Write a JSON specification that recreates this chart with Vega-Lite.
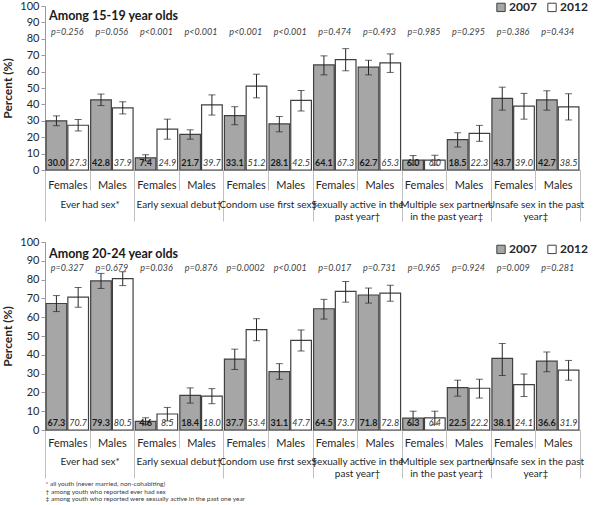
{
  "$schema": "https://vega.github.io/schema/vega-lite/v6.json",
  "padding": {"left": 1, "top": 0, "right": 5, "bottom": 0},
  "datasets": {
    "rows": [
      {"a":"15-19","c":"Ever had sex*","g":"F1","yr":"2007","v":30.0,"lo":27.0,"hi":33.0,"p":"p=0.256"},
      {"a":"15-19","c":"Ever had sex*","g":"F1","yr":"2012","v":27.3,"lo":23.8,"hi":30.8,"p":"p=0.256"},
      {"a":"15-19","c":"Ever had sex*","g":"M1","yr":"2007","v":42.8,"lo":39.3,"hi":46.3,"p":"p=0.056"},
      {"a":"15-19","c":"Ever had sex*","g":"M1","yr":"2012","v":37.9,"lo":34.2,"hi":41.6,"p":"p=0.056"},
      {"a":"15-19","c":"Early sexual debut†","g":"F2","yr":"2007","v":7.4,"lo":5.5,"hi":9.3,"p":"p<0.001"},
      {"a":"15-19","c":"Early sexual debut†","g":"F2","yr":"2012","v":24.9,"lo":18.8,"hi":31.0,"p":"p<0.001"},
      {"a":"15-19","c":"Early sexual debut†","g":"M2","yr":"2007","v":21.7,"lo":18.8,"hi":24.5,"p":"p<0.001"},
      {"a":"15-19","c":"Early sexual debut†","g":"M2","yr":"2012","v":39.7,"lo":33.5,"hi":45.8,"p":"p<0.001"},
      {"a":"15-19","c":"Condom  use first sex†","g":"F3","yr":"2007","v":33.1,"lo":27.6,"hi":38.6,"p":"p<0.001"},
      {"a":"15-19","c":"Condom  use first sex†","g":"F3","yr":"2012","v":51.2,"lo":44.0,"hi":58.4,"p":"p<0.001"},
      {"a":"15-19","c":"Condom  use first sex†","g":"M3","yr":"2007","v":28.1,"lo":23.3,"hi":32.6,"p":"p<0.001"},
      {"a":"15-19","c":"Condom  use first sex†","g":"M3","yr":"2012","v":42.5,"lo":36.0,"hi":48.5,"p":"p<0.001"},
      {"a":"15-19","c":"Sexually active in the past year†","g":"F4","yr":"2007","v":64.1,"lo":58.0,"hi":69.6,"p":"p=0.474"},
      {"a":"15-19","c":"Sexually active in the past year†","g":"F4","yr":"2012","v":67.3,"lo":60.5,"hi":74.0,"p":"p=0.474"},
      {"a":"15-19","c":"Sexually active in the past year†","g":"M4","yr":"2007","v":62.7,"lo":58.0,"hi":66.9,"p":"p=0.493"},
      {"a":"15-19","c":"Sexually active in the past year†","g":"M4","yr":"2012","v":65.3,"lo":59.5,"hi":70.8,"p":"p=0.493"},
      {"a":"15-19","c":"Multiple sex partners in the past year‡","g":"F5","yr":"2007","v":6.0,"lo":3.2,"hi":8.8,"p":"p=0.985"},
      {"a":"15-19","c":"Multiple sex partners in the past year‡","g":"F5","yr":"2012","v":6.0,"lo":3.0,"hi":9.0,"p":"p=0.985"},
      {"a":"15-19","c":"Multiple sex partners in the past year‡","g":"M5","yr":"2007","v":18.5,"lo":14.0,"hi":22.7,"p":"p=0.295"},
      {"a":"15-19","c":"Multiple sex partners in the past year‡","g":"M5","yr":"2012","v":22.3,"lo":17.5,"hi":27.2,"p":"p=0.295"},
      {"a":"15-19","c":"Unsafe sex in the past year‡","g":"F6","yr":"2007","v":43.7,"lo":36.5,"hi":50.5,"p":"p=0.386"},
      {"a":"15-19","c":"Unsafe sex in the past year‡","g":"F6","yr":"2012","v":39.0,"lo":31.0,"hi":46.7,"p":"p=0.386"},
      {"a":"15-19","c":"Unsafe sex in the past year‡","g":"M6","yr":"2007","v":42.7,"lo":36.5,"hi":48.3,"p":"p=0.434"},
      {"a":"15-19","c":"Unsafe sex in the past year‡","g":"M6","yr":"2012","v":38.5,"lo":30.5,"hi":46.5,"p":"p=0.434"},
      {"a":"20-24","c":"Ever had sex*","g":"F1","yr":"2007","v":67.3,"lo":63.0,"hi":71.5,"p":"p=0.327"},
      {"a":"20-24","c":"Ever had sex*","g":"F1","yr":"2012","v":70.7,"lo":65.3,"hi":75.8,"p":"p=0.327"},
      {"a":"20-24","c":"Ever had sex*","g":"M1","yr":"2007","v":79.3,"lo":75.3,"hi":83.3,"p":"p=0.679"},
      {"a":"20-24","c":"Ever had sex*","g":"M1","yr":"2012","v":80.5,"lo":76.8,"hi":84.2,"p":"p=0.679"},
      {"a":"20-24","c":"Early sexual debut†","g":"F2","yr":"2007","v":4.6,"lo":3.0,"hi":6.5,"p":"p=0.036"},
      {"a":"20-24","c":"Early sexual debut†","g":"F2","yr":"2012","v":8.5,"lo":4.8,"hi":12.0,"p":"p=0.036"},
      {"a":"20-24","c":"Early sexual debut†","g":"M2","yr":"2007","v":18.4,"lo":14.3,"hi":22.4,"p":"p=0.876"},
      {"a":"20-24","c":"Early sexual debut†","g":"M2","yr":"2012","v":18.0,"lo":14.0,"hi":22.0,"p":"p=0.876"},
      {"a":"20-24","c":"Condom  use first sex†","g":"F3","yr":"2007","v":37.7,"lo":32.2,"hi":43.0,"p":"p=0.0002"},
      {"a":"20-24","c":"Condom  use first sex†","g":"F3","yr":"2012","v":53.4,"lo":47.5,"hi":59.2,"p":"p=0.0002"},
      {"a":"20-24","c":"Condom  use first sex†","g":"M3","yr":"2007","v":31.1,"lo":27.0,"hi":35.3,"p":"p<0.001"},
      {"a":"20-24","c":"Condom  use first sex†","g":"M3","yr":"2012","v":47.7,"lo":42.0,"hi":53.2,"p":"p<0.001"},
      {"a":"20-24","c":"Sexually active in the past year†","g":"F4","yr":"2007","v":64.5,"lo":59.0,"hi":69.5,"p":"p=0.017"},
      {"a":"20-24","c":"Sexually active in the past year†","g":"F4","yr":"2012","v":73.7,"lo":68.0,"hi":79.0,"p":"p=0.017"},
      {"a":"20-24","c":"Sexually active in the past year†","g":"M4","yr":"2007","v":71.8,"lo":67.5,"hi":75.5,"p":"p=0.731"},
      {"a":"20-24","c":"Sexually active in the past year†","g":"M4","yr":"2012","v":72.8,"lo":68.5,"hi":77.0,"p":"p=0.731"},
      {"a":"20-24","c":"Multiple sex partners in the past year‡","g":"F5","yr":"2007","v":6.3,"lo":2.8,"hi":10.0,"p":"p=0.965"},
      {"a":"20-24","c":"Multiple sex partners in the past year‡","g":"F5","yr":"2012","v":6.4,"lo":3.0,"hi":10.0,"p":"p=0.965"},
      {"a":"20-24","c":"Multiple sex partners in the past year‡","g":"M5","yr":"2007","v":22.5,"lo":18.0,"hi":26.5,"p":"p=0.924"},
      {"a":"20-24","c":"Multiple sex partners in the past year‡","g":"M5","yr":"2012","v":22.2,"lo":17.0,"hi":27.0,"p":"p=0.924"},
      {"a":"20-24","c":"Unsafe sex in the past year‡","g":"F6","yr":"2007","v":38.1,"lo":29.0,"hi":46.0,"p":"p=0.009"},
      {"a":"20-24","c":"Unsafe sex in the past year‡","g":"F6","yr":"2012","v":24.1,"lo":17.8,"hi":29.8,"p":"p=0.009"},
      {"a":"20-24","c":"Unsafe sex in the past year‡","g":"M6","yr":"2007","v":36.6,"lo":31.0,"hi":41.5,"p":"p=0.281"},
      {"a":"20-24","c":"Unsafe sex in the past year‡","g":"M6","yr":"2012","v":31.9,"lo":26.5,"hi":37.0,"p":"p=0.281"}
    ]
  },
  "vconcat": [
    {
      "data": {"name": "rows"},
      "transform": [{"filter": "datum.a == '15-19'"}],
      "width": 535,
      "height": 164,
      "layer": [
        {
          "encoding": {
            "x": {"field": "g", "type": "nominal",
              "scale": {"domain": ["F1","M1","F2","M2","F3","M3","F4","M4","F5","M5","F6","M6"], "paddingInner": 0, "paddingOuter": 0},
              "axis": {"orient": "bottom", "title": null, "labelAngle": 0, "labelExpr": "slice(datum.label,0,1)=='F' ? 'Females' : slice(datum.label,0,1)=='M' ? 'Males' : ''", "tickBand": "extent", "tickSize": 20, "labelPadding": -11, "labelFontSize": 11, "labelColor": "#262626", "tickColor": "#bfbfbf", "domainColor": "#bfbfbf", "labelOverlap": false}},
            "y": {"field": "v", "type": "quantitative", "scale": {"domain": [0, 100]}, "title": "Percent (%)", "axis": {"values": [0,10,20,30,40,50,60,70,80,90,100], "labelOverlap": false}}
          },
          "layer": [
            {
              "mark": {"type": "bar", "stroke": "#404040", "strokeWidth": 1.2},
              "encoding": {
                "xOffset": {"field": "yr", "type": "nominal", "scale": {"paddingInner": 0.05, "paddingOuter": 0.05}},
                "fill": {"field": "yr", "type": "nominal", "scale": {"domain": ["2007","2012"], "range": ["#a6a6a6", "#ffffff"]},
                  "legend": {"orient": "none", "legendX": 450, "legendY": -5, "padding": 0, "direction": "horizontal", "title": null, "labelFontSize": 12, "labelFontWeight": "bold", "labelColor": "#262626", "symbolType": "square", "symbolSize": 70, "symbolStrokeColor": "#404040", "symbolStrokeWidth": 1, "columnPadding": 8, "labelOffset": 2}}
              }
            },
            {
              "mark": {"type": "rule", "color": "#262626", "strokeWidth": 1},
              "encoding": {"xOffset": {"field": "yr", "type": "nominal"}, "y": {"field": "lo", "type": "quantitative"}, "y2": {"field": "hi"}}
            },
            {
              "mark": {"type": "tick", "color": "#262626", "size": 7, "thickness": 1},
              "encoding": {"xOffset": {"field": "yr", "type": "nominal"}, "y": {"field": "lo", "type": "quantitative"}}
            },
            {
              "mark": {"type": "tick", "color": "#262626", "size": 7, "thickness": 1},
              "encoding": {"xOffset": {"field": "yr", "type": "nominal"}, "y": {"field": "hi", "type": "quantitative"}}
            },
            {
              "transform": [{"filter": "datum.yr == '2007'"}],
              "mark": {"type": "text", "fontSize": 9, "fontWeight": "bold", "color": "#1a1a1a", "baseline": "bottom", "dy": -2},
              "encoding": {"xOffset": {"field": "yr", "type": "nominal"}, "y": {"datum": 0}, "text": {"field": "v", "type": "quantitative", "format": ".1f"}}
            },
            {
              "transform": [{"filter": "datum.yr == '2012'"}],
              "mark": {"type": "text", "fontSize": 9, "fontStyle": "italic", "color": "#333333", "baseline": "bottom", "dy": -2},
              "encoding": {"xOffset": {"field": "yr", "type": "nominal"}, "y": {"datum": 0}, "text": {"field": "v", "type": "quantitative", "format": ".1f"}}
            },
            {
              "transform": [{"filter": "datum.yr == '2007'"}],
              "mark": {"type": "text", "fontSize": 9, "fontStyle": "italic", "color": "#404040", "baseline": "middle"},
              "encoding": {"y": {"datum": 84}, "text": {"field": "p", "type": "nominal"}}
            },
            {
              "transform": [{"filter": "datum.g == 'F1' && datum.yr == '2007'"}],
              "mark": {"type": "text", "text": "Among 15-19 year olds", "fontSize": 12.5, "fontWeight": "bold", "color": "#1a1a1a", "align": "left", "baseline": "middle", "dx": 4},
              "encoding": {"x": {"datum": "F1", "bandPosition": 0}, "y": {"datum": 94}}
            }
          ]
        },
        {
          "mark": {"type": "rule", "opacity": 0},
          "encoding": {
            "x": {"field": "c", "type": "nominal",
              "scale": {"domain": ["Ever had sex*","Early sexual debut†","Condom  use first sex†","Sexually active in the past year†","Multiple sex partners in the past year‡","Unsafe sex in the past year‡"], "paddingInner": 0, "paddingOuter": 0},
              "axis": {"orient": "bottom", "title": null, "labelAngle": 0, "domain": false, "tickBand": "extent", "tickSize": 51, "labelPadding": -22, "labelFontSize": 10, "labelColor": "#262626", "tickColor": "#bfbfbf", "labelLineHeight": 12, "labelLimit": 0, "labelOverlap": false,
                "labelExpr": "datum.label=='Sexually active in the past year†' ? ['Sexually active in the','past year†'] : datum.label=='Multiple sex partners in the past year‡' ? ['Multiple sex partners','in the past year‡'] : datum.label=='Unsafe sex in the past year‡' ? ['Unsafe sex in the past','year‡'] : datum.label"}}
          }
        }
      ],
      "resolve": {"scale": {"x": "independent"}, "axis": {"x": "independent"}}
    },
    {
      "data": {"name": "rows"},
      "transform": [{"filter": "datum.a == '20-24'"}],
      "width": 535,
      "height": 188,
      "layer": [
        {
          "encoding": {
            "x": {"field": "g", "type": "nominal",
              "scale": {"domain": ["F1","M1","F2","M2","F3","M3","F4","M4","F5","M5","F6","M6"], "paddingInner": 0, "paddingOuter": 0},
              "axis": {"orient": "bottom", "title": null, "labelAngle": 0, "labelExpr": "slice(datum.label,0,1)=='F' ? 'Females' : slice(datum.label,0,1)=='M' ? 'Males' : ''", "tickBand": "extent", "tickSize": 18, "labelPadding": -11, "labelFontSize": 11, "labelColor": "#262626", "tickColor": "#bfbfbf", "domainColor": "#bfbfbf", "labelOverlap": false}},
            "y": {"field": "v", "type": "quantitative", "scale": {"domain": [0, 100]}, "title": "Percent (%)", "axis": {"values": [0,10,20,30,40,50,60,70,80,90,100], "labelOverlap": false}}
          },
          "layer": [
            {
              "mark": {"type": "bar", "stroke": "#404040", "strokeWidth": 1.2},
              "encoding": {
                "xOffset": {"field": "yr", "type": "nominal", "scale": {"paddingInner": 0.05, "paddingOuter": 0.05}},
                "fill": {"field": "yr", "type": "nominal", "scale": {"domain": ["2007","2012"], "range": ["#a6a6a6", "#ffffff"]},
                  "legend": {"orient": "none", "legendX": 450, "legendY": 1, "padding": 0, "direction": "horizontal", "title": null, "labelFontSize": 12, "labelFontWeight": "bold", "labelColor": "#262626", "symbolType": "square", "symbolSize": 70, "symbolStrokeColor": "#404040", "symbolStrokeWidth": 1, "columnPadding": 8, "labelOffset": 2}}
              }
            },
            {
              "mark": {"type": "rule", "color": "#262626", "strokeWidth": 1},
              "encoding": {"xOffset": {"field": "yr", "type": "nominal"}, "y": {"field": "lo", "type": "quantitative"}, "y2": {"field": "hi"}}
            },
            {
              "mark": {"type": "tick", "color": "#262626", "size": 7, "thickness": 1},
              "encoding": {"xOffset": {"field": "yr", "type": "nominal"}, "y": {"field": "lo", "type": "quantitative"}}
            },
            {
              "mark": {"type": "tick", "color": "#262626", "size": 7, "thickness": 1},
              "encoding": {"xOffset": {"field": "yr", "type": "nominal"}, "y": {"field": "hi", "type": "quantitative"}}
            },
            {
              "transform": [{"filter": "datum.yr == '2007'"}],
              "mark": {"type": "text", "fontSize": 9, "fontWeight": "bold", "color": "#1a1a1a", "baseline": "bottom", "dy": -2},
              "encoding": {"xOffset": {"field": "yr", "type": "nominal"}, "y": {"datum": 0}, "text": {"field": "v", "type": "quantitative", "format": ".1f"}}
            },
            {
              "transform": [{"filter": "datum.yr == '2012'"}],
              "mark": {"type": "text", "fontSize": 9, "fontStyle": "italic", "color": "#333333", "baseline": "bottom", "dy": -2},
              "encoding": {"xOffset": {"field": "yr", "type": "nominal"}, "y": {"datum": 0}, "text": {"field": "v", "type": "quantitative", "format": ".1f"}}
            },
            {
              "transform": [{"filter": "datum.yr == '2007'"}],
              "mark": {"type": "text", "fontSize": 9, "fontStyle": "italic", "color": "#404040", "baseline": "middle"},
              "encoding": {"y": {"datum": 86}, "text": {"field": "p", "type": "nominal"}}
            },
            {
              "transform": [{"filter": "datum.g == 'F1' && datum.yr == '2007'"}],
              "mark": {"type": "text", "text": "Among 20-24 year olds", "fontSize": 12.5, "fontWeight": "bold", "color": "#1a1a1a", "align": "left", "baseline": "middle", "dx": 4},
              "encoding": {"x": {"datum": "F1", "bandPosition": 0}, "y": {"datum": 93.5}}
            }
          ]
        },
        {
          "mark": {"type": "rule", "opacity": 0},
          "encoding": {
            "x": {"field": "c", "type": "nominal",
              "scale": {"domain": ["Ever had sex*","Early sexual debut†","Condom  use first sex†","Sexually active in the past year†","Multiple sex partners in the past year‡","Unsafe sex in the past year‡"], "paddingInner": 0, "paddingOuter": 0},
              "axis": {"orient": "bottom", "domain": false, "labelAngle": 0, "tickBand": "extent", "tickSize": 48, "labelPadding": -22, "labelFontSize": 10, "labelColor": "#262626", "tickColor": "#bfbfbf", "labelLineHeight": 12, "labelLimit": 0, "labelOverlap": false,
                "labelExpr": "datum.label=='Sexually active in the past year†' ? ['Sexually active in the','past year†'] : datum.label=='Multiple sex partners in the past year‡' ? ['Multiple sex partners','in the past year‡'] : datum.label=='Unsafe sex in the past year‡' ? ['Unsafe sex in the past','year‡'] : datum.label",
                "title": ["* all youth (never married, non-cohabiting)", "† among youth who reported ever had sex", "‡ among youth who reported were sexually active in the past one year"],
                "titleAnchor": "start", "titleAlign": "left", "titleFontSize": 6.5, "titleFontWeight": "normal", "titleLineHeight": 7.5, "titlePadding": 2, "titleColor": "#404040"}}
          }
        }
      ],
      "resolve": {"scale": {"x": "independent"}, "axis": {"x": "independent"}}
    }
  ],
  "spacing": 14,
  "resolve": {"legend": {"fill": "independent"}},
  "config": {
    "font": "Lato",
    "view": {"stroke": null},
    "axis": {"grid": false},
    "axisY": {"titleFontSize": 12, "titleFontWeight": "bold", "titleColor": "#262626", "titlePadding": 5, "labelFontSize": 11, "labelColor": "#262626", "tickSize": 4, "labelPadding": 2, "tickColor": "#999999", "domainColor": "#999999", "labelOverlap": false}
  }
}
